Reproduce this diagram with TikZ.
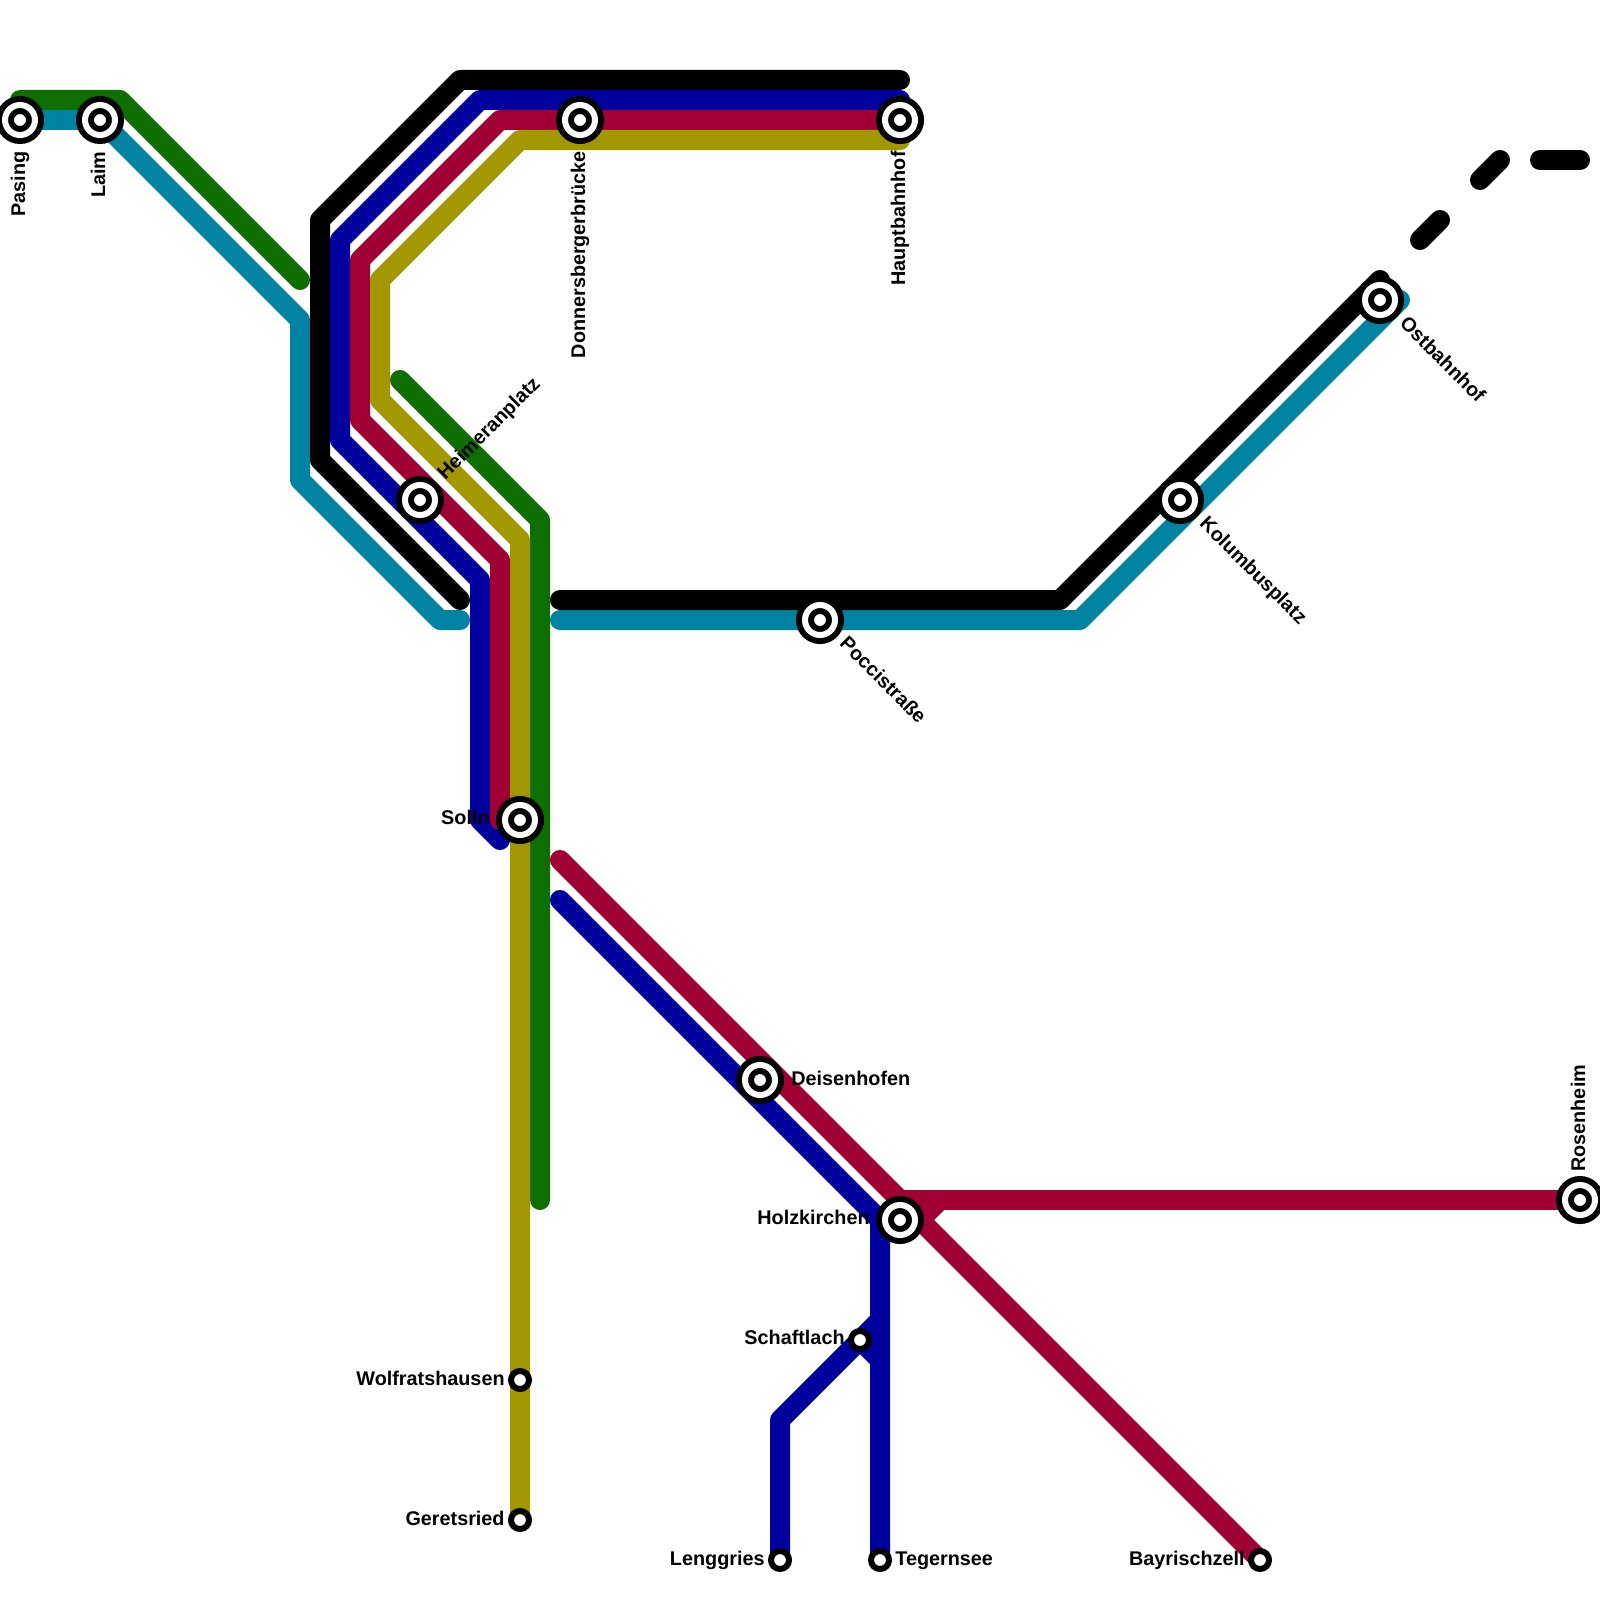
\documentclass[tikz,border=0pt]{standalone}
\usepackage{fontspec}
\setmainfont{Liberation Sans}
\usetikzlibrary{positioning,backgrounds}
\definecolor{sbahngreen}{HTML}{0E6E00}
\definecolor{sbahnteal}{HTML}{0082A3}
\definecolor{sbahnblue}{HTML}{00009F}
\definecolor{sbahnred}{HTML}{A00034}
\definecolor{sbahnolive}{HTML}{A39700}

\begin{document}
\begin{tikzpicture}[x=0.5pt, y=-0.5pt,
  track/.style={line width=10pt, line cap=round, line join=round},
  hub/.style={circle, draw=black, fill=white, line width=3pt, double=white,
    double distance=3pt, minimum size=15pt, inner sep=0pt, outer sep=0pt},
  halt/.style={circle, draw=black, fill=white, line width=3pt,
    minimum size=9pt, inner sep=0pt, outer sep=0pt},
  lbl/.style={font=\bfseries\fontsize{9.9}{12}\selectfont, inner sep=0pt,
    text height=7.2pt, text depth=0pt}]
\useasboundingbox (0,0) rectangle (1600,1600);
% stations
\node[hub] (pasing) at (20,120) {};
\node[hub] (laim) at (100,120) {};
\node[hub] (donnersberg) at (580,120) {};
\node[hub] (haupt) at (900,120) {};
\node[hub] (heimeran) at (420,500) {};
\node[hub] (solln) at (520,820) {};
\node[hub] (pocci) at (820,620) {};
\node[hub] (kolumbus) at (1180,500) {};
\node[hub] (ost) at (1380,300) {};
\node[hub] (deisen) at (760,1080) {};
\node[hub] (holz) at (900,1220) {};
\node[hub] (rosen) at (1580,1200) {};
\node[halt] (schaft) at (860,1340) {};
\node[halt] (wolf) at (520,1380) {};
\node[halt] (gerets) at (520,1520) {};
\node[halt] (lengg) at (780,1560) {};
\node[halt] (tegern) at (880,1560) {};
\node[halt] (bayr) at (1260,1560) {};
% labels
\node[lbl, xshift=-1pt, rotate=90, below=8pt of pasing, anchor=east] (lpasing) {Pasing};
\node[lbl, xshift=-1pt, rotate=90, below=8pt of laim, anchor=east] (llaim) {Laim};
\node[lbl, xshift=-1pt, rotate=90, below=8pt of donnersberg, anchor=east] (ldonnersberg) {Donnersbergerbrücke};
\node[lbl, xshift=-1pt, rotate=90, below=8pt of haupt, anchor=east] (lhaupt) {Hauptbahnhof};
\node[lbl, xshift=-1pt, rotate=90, above=6.5pt of rosen, anchor=west] (lrosen) {Rosenheim};
\node[lbl, rotate=45, above right=6.7pt and 4.7pt of heimeran, anchor=west] (lheimeran) {Heimeranplatz};
\node[lbl, rotate=-45, below right=4.5pt and 6.5pt of pocci, anchor=west] (lpocci) {Poccistraße};
\node[lbl, rotate=-45, below right=4.5pt and 6.5pt of kolumbus, anchor=west] (lkolumbus) {Kolumbusplatz};
\node[lbl, rotate=-45, below right=4.5pt and 6.5pt of ost, anchor=west] (lost) {Ostbahnhof};
\node[lbl, left=7.5pt of solln, yshift=1.5pt] (lsolln) {Solln};
\node[lbl, left=7.5pt of holz, yshift=1.5pt] (lholz) {Holzkirchen};
\node[lbl, right=8pt of deisen, yshift=1pt] (ldeisen) {Deisenhofen};
\node[lbl, left=3pt of schaft, yshift=1.5pt] (lschaft) {Schaftlach};
\node[lbl, left=3pt of wolf, yshift=1pt] (lwolf) {Wolfratshausen};
\node[lbl, left=3pt of gerets, yshift=1pt] (lgerets) {Geretsried};
\node[lbl, left=3pt of lengg, yshift=1pt] (llengg) {Lenggries};
\node[lbl, right=3pt of tegern, yshift=1pt] (ltegern) {Tegernsee};
\node[lbl, left=3pt of bayr, yshift=1pt] (lbayr) {Bayrischzell};
% free line ends
\coordinate (greenW) at (20,100);
\coordinate (greenE) at (300,280);
\coordinate (greenS) at (400,380);
\coordinate (greenB) at (540,1200);
\coordinate (tealA) at (460,620);
\coordinate (tealB) at (560,620);
\coordinate (tealC) at (1400,300);
\coordinate (blackA) at (460,600);
\coordinate (blackB) at (900,80);
\coordinate (blackC) at (560,600);
\coordinate (blackD) at (1380,280);
\coordinate (blueA) at (900,100);
\coordinate (blueB) at (500,840);
\coordinate (blueC) at (560,900);
\coordinate (blueD) at (880,1320);
\coordinate (blueE) at (880,1360);
\coordinate (redA) at (500,820);
\coordinate (redB) at (560,860);
\coordinate (redC) at (920,1220);
\coordinate (redD) at (900,1200);
\coordinate (redE) at (940,1200);
\coordinate (oliveA) at (900,140);
\begin{scope}[on background layer]
\draw[track, sbahnteal] (pasing.center) -- (laim.center) -- (300,320) -- (300,480) -- (440,620) -- (tealA);
\draw[track, sbahnteal] (tealB) -- (1080,620) -- (tealC);
\draw[track, sbahngreen] (greenW) -- (120,100) -- (greenE);
\draw[track, sbahngreen] (greenS) -- (540,520) -- (greenB);
\draw[track, black] (blackA) -- (320,460) -- (320,220) -- (460,80) -- (blackB);
\draw[track, black] (blackC) -- (1060,600) -- (blackD);
\draw[track, sbahnblue] (blueA) -- (480,100) -- (340,240) -- (340,440) -- (480,580) -- (480,820) -- (blueB);
\draw[track, sbahnblue] (blueC) -- (880,1220) -- (tegern.center);
\draw[track, sbahnblue] (blueD) -- (780,1420) -- (lengg.center);
\draw[track, sbahnblue] (schaft.center) -- (blueE);
\draw[track, sbahnred] (haupt.center) -- (500,120) -- (360,260) -- (360,420) -- (500,560) -- (redA);
\draw[track, sbahnred] (redB) -- (bayr.center);
\draw[track, sbahnred] (rosen.center) -- (redD);
\draw[track, sbahnred] (redE) -- (redC);
\draw[track, sbahnolive] (oliveA) -- (520,140) -- (380,280) -- (380,400) -- (520,540) -- (gerets.center);
\end{scope}
% dashed stub
\coordinate (dashA) at (1420,240);
\coordinate (dashB) at (1440,220);
\coordinate (dashC) at (1480,180);
\coordinate (dashD) at (1500,160);
\coordinate (dashE) at (1540,160);
\coordinate (dashF) at (1580,160);
\draw[track, black] (dashA) -- (dashB);
\draw[track, black] (dashC) -- (dashD);
\draw[track, black] (dashE) -- (dashF);
\end{tikzpicture}
\end{document}
